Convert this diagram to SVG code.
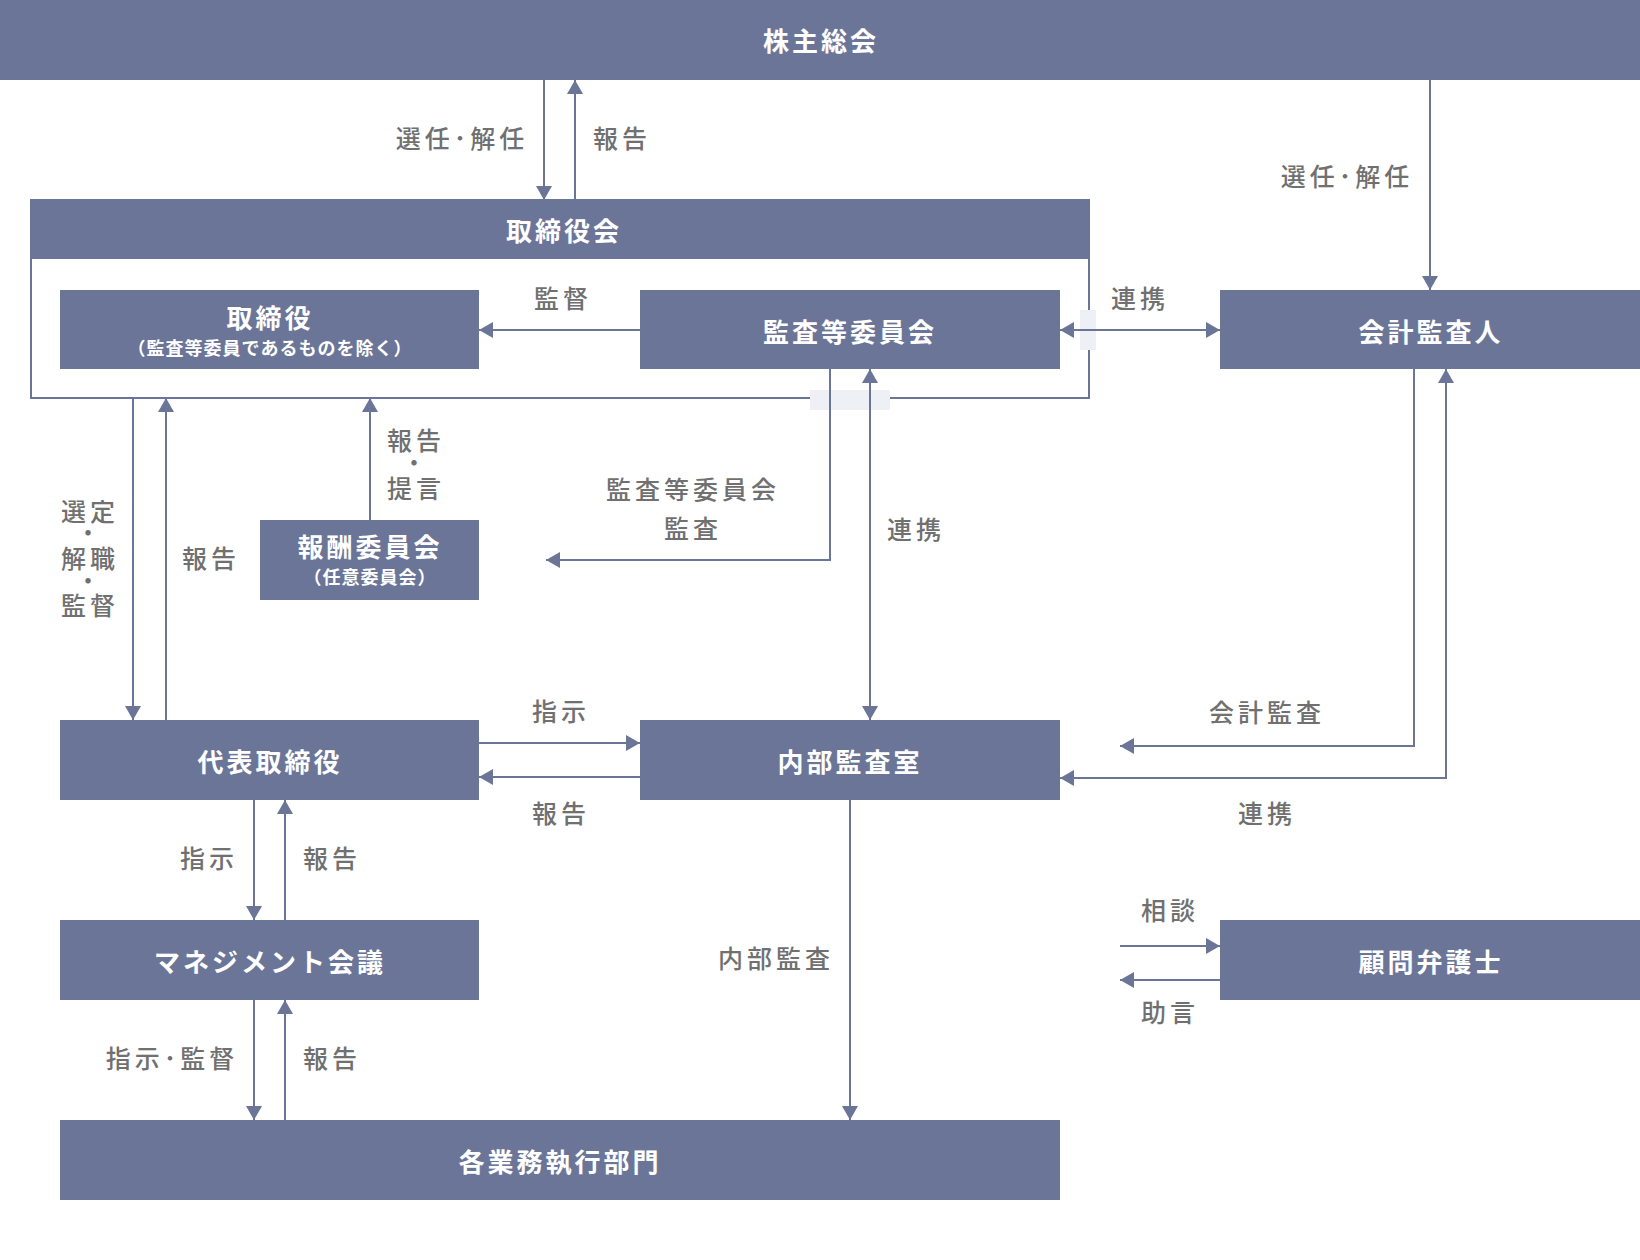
<svg xmlns="http://www.w3.org/2000/svg" width="1640" height="1260" viewBox="0 0 1640 1260">
<style>
.box{fill:#6b7598}
.bt{fill:#ffffff;font-family:"Noto Sans CJK JP","Noto Sans",sans-serif;font-weight:700;font-size:26px;letter-spacing:3px;text-anchor:middle;dominant-baseline:central}
.st{fill:#ffffff;font-family:"Noto Sans CJK JP","Noto Sans",sans-serif;font-weight:700;font-size:18px;letter-spacing:1px;text-anchor:middle;dominant-baseline:central}
.lb{fill:#707070;font-family:"Noto Sans CJK JP","Noto Sans",sans-serif;font-weight:500;font-size:25px;letter-spacing:4px;text-anchor:middle;dominant-baseline:central}
.dot{fill:#707070;font-family:"Noto Sans CJK JP","Noto Sans",sans-serif;font-size:6px;letter-spacing:0;text-anchor:middle;dominant-baseline:central}
.ln{fill:none;stroke:#6b7598;stroke-width:2}
.patch{fill:#eff0f6}
</style>
<defs>
<marker id="ah" viewBox="0 0 14 16" refX="14" refY="8" markerWidth="14" markerHeight="16" markerUnits="userSpaceOnUse" orient="auto-start-reverse">
<path d="M0,0 L14,8 L0,16 Z" fill="#6b7598"/>
</marker>
</defs>
<rect width="1640" height="1260" fill="#ffffff"/>

<g id="frame">
<rect x="31" y="200" width="1058" height="198" class="ln"/>
<rect x="1080" y="310" width="16" height="40" class="patch"/>
<rect x="810" y="390" width="80" height="20" class="patch"/>
</g>

<g id="connectors">
<line x1="544" y1="80" x2="544" y2="200" class="ln" marker-end="url(#ah)"/>
<line x1="575" y1="200" x2="575" y2="80" class="ln" marker-end="url(#ah)"/>
<line x1="1430" y1="80" x2="1430" y2="290" class="ln" marker-end="url(#ah)"/>
<line x1="640" y1="330" x2="479" y2="330" class="ln" marker-end="url(#ah)"/>
<line x1="1060" y1="330" x2="1220" y2="330" class="ln" marker-start="url(#ah)" marker-end="url(#ah)"/>
<line x1="133" y1="398" x2="133" y2="720" class="ln" marker-end="url(#ah)"/>
<line x1="166" y1="720" x2="166" y2="398" class="ln" marker-end="url(#ah)"/>
<line x1="370" y1="520" x2="370" y2="398" class="ln" marker-end="url(#ah)"/>
<polyline points="830,369 830,560 546,560" class="ln" marker-end="url(#ah)"/>
<line x1="870" y1="369" x2="870" y2="720" class="ln" marker-start="url(#ah)" marker-end="url(#ah)"/>
<line x1="479" y1="743" x2="640" y2="743" class="ln" marker-end="url(#ah)"/>
<line x1="640" y1="777" x2="479" y2="777" class="ln" marker-end="url(#ah)"/>
<polyline points="1414,369 1414,746 1120,746" class="ln" marker-end="url(#ah)"/>
<polyline points="1060,778 1446,778 1446,369" class="ln" marker-start="url(#ah)" marker-end="url(#ah)"/>
<line x1="254" y1="800" x2="254" y2="920" class="ln" marker-end="url(#ah)"/>
<line x1="285" y1="920" x2="285" y2="800" class="ln" marker-end="url(#ah)"/>
<line x1="254" y1="1000" x2="254" y2="1120" class="ln" marker-end="url(#ah)"/>
<line x1="285" y1="1120" x2="285" y2="1000" class="ln" marker-end="url(#ah)"/>
<line x1="850" y1="800" x2="850" y2="1120" class="ln" marker-end="url(#ah)"/>
<line x1="1120" y1="946" x2="1220" y2="946" class="ln" marker-end="url(#ah)"/>
<line x1="1220" y1="980" x2="1120" y2="980" class="ln" marker-end="url(#ah)"/>
</g>

<g id="labels">
<text class="lb" x="462" y="137">選任･解任</text>
<text class="lb" x="622" y="137">報告</text>
<text class="lb" x="1347" y="175">選任･解任</text>
<text class="lb" x="563" y="297">監督</text>
<text class="lb" x="1140" y="297">連携</text>
<text class="lb" x="416" y="439">報告</text>
<text class="dot" x="414" y="462">●</text>
<text class="lb" x="416" y="487">提言</text>
<text class="lb" x="90" y="510">選定</text>
<text class="dot" x="88" y="532">●</text>
<text class="lb" x="90" y="557">解職</text>
<text class="dot" x="88" y="580">●</text>
<text class="lb" x="90" y="604">監督</text>
<text class="lb" x="211" y="557">報告</text>
<text class="lb" x="693" y="488">監査等委員会</text>
<text class="lb" x="693" y="527">監査</text>
<text class="lb" x="916" y="528">連携</text>
<text class="lb" x="561" y="710">指示</text>
<text class="lb" x="561" y="812">報告</text>
<text class="lb" x="1267" y="711">会計監査</text>
<text class="lb" x="1267" y="812">連携</text>
<text class="lb" x="209" y="857">指示</text>
<text class="lb" x="332" y="857">報告</text>
<text class="lb" x="172" y="1057">指示･監督</text>
<text class="lb" x="332" y="1057">報告</text>
<text class="lb" x="776" y="957">内部監査</text>
<text class="lb" x="1170" y="909">相談</text>
<text class="lb" x="1170" y="1011">助言</text>
</g>

<g id="n-shareholders"><rect class="box" x="0" y="0" width="1640" height="80"/><text class="bt" x="821" y="39">株主総会</text></g>
<g id="n-board"><rect class="box" x="30" y="200" width="1060" height="59"/><text class="bt" x="564" y="229">取締役会</text></g>
<g id="n-directors"><rect class="box" x="60" y="290" width="419" height="79"/><text class="bt" x="270" y="316">取締役</text><text class="st" x="270" y="347">（監査等委員であるものを除く）</text></g>
<g id="n-audit-committee"><rect class="box" x="640" y="290" width="420" height="79"/><text class="bt" x="850" y="330">監査等委員会</text></g>
<g id="n-accounting-auditor"><rect class="box" x="1220" y="290" width="420" height="79"/><text class="bt" x="1431" y="330">会計監査人</text></g>
<g id="n-compensation"><rect class="box" x="260" y="520" width="219" height="80"/><text class="bt" x="370" y="545">報酬委員会</text><text class="st" x="370" y="576">（任意委員会）</text></g>
<g id="n-representative"><rect class="box" x="60" y="720" width="419" height="80"/><text class="bt" x="270" y="760">代表取締役</text></g>
<g id="n-internal-audit"><rect class="box" x="640" y="720" width="420" height="80"/><text class="bt" x="850" y="760">内部監査室</text></g>
<g id="n-management"><rect class="box" x="60" y="920" width="419" height="80"/><text class="bt" x="270" y="960">マネジメント会議</text></g>
<g id="n-divisions"><rect class="box" x="60" y="1120" width="1000" height="80"/><text class="bt" x="560" y="1160">各業務執行部門</text></g>
<g id="n-lawyer"><rect class="box" x="1220" y="920" width="420" height="80"/><text class="bt" x="1431" y="960">顧問弁護士</text></g>
</svg>
